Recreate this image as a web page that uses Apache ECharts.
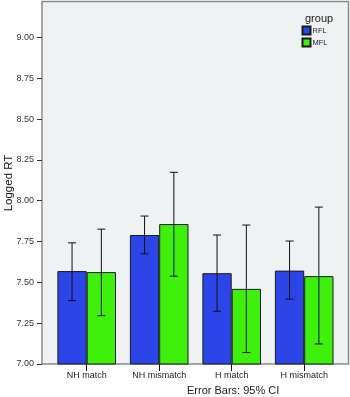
<!DOCTYPE html>
<html>
<head>
<meta charset="utf-8">
<script src="https://cdn.jsdelivr.net/npm/echarts@6/dist/echarts.min.js"></script>
<style>
  html, body { margin: 0; padding: 0; background: #fff; }
  #main { width: 350px; height: 397px; }
</style>
</head>
<body>
<div id="main"></div>
<script>
// condition categories + group means, with 95% CI bounds
var categories = ['NH match', 'NH mismatch', 'H match', 'H mismatch'];
var groups = ['RFL', 'MFL'];
var rflMean = [7.569, 7.790, 7.556, 7.572];
var rflLow  = [7.388, 7.675, 7.323, 7.397];
var rflHigh = [7.742, 7.906, 7.790, 7.753];
var mflMean = [7.563, 7.857, 7.460, 7.538];
var mflLow  = [7.296, 7.538, 7.070, 7.123];
var mflHigh = [7.826, 8.174, 7.851, 7.961];
var yTicks = [7.00, 7.25, 7.50, 7.75, 8.00, 8.25, 8.50, 8.75, 9.00];

var font = 'Liberation Sans, Arial, sans-serif';
var yMin = 7, yMax = 9.22;
var barW = 29.3;

var errData = [];
for (var i = 0; i < categories.length; i++) {
    errData.push([i, rflLow[i], rflHigh[i], -barW / 2]);
    errData.push([i, mflLow[i], mflHigh[i], barW / 2]);
}

var renderErr = function (params, api) {
    var c = api.value(0);
    var lo = api.coord([c, api.value(1)]);
    var hi = api.coord([c, api.value(2)]);
    var x = lo[0] + api.value(3);
    var cap = 4;
    var st = { stroke: '#111', lineWidth: 1 };
    return {
        type: 'group',
        children: [
            { type: 'line', shape: { x1: x, y1: hi[1], x2: x, y2: lo[1] }, style: st },
            { type: 'line', shape: { x1: x - cap, y1: hi[1], x2: x + cap, y2: hi[1] }, style: st },
            { type: 'line', shape: { x1: x - cap, y1: lo[1], x2: x + cap, y2: lo[1] }, style: st }
        ]
    };
};

var option = {
    animation: false,
    textStyle: { fontFamily: font },
    title: {
        text: 'group',
        left: 300,
        top: 8,
        textStyle: { fontSize: 11, fontWeight: 'normal', color: '#222', fontFamily: font }
    },
    legend: {
        data: groups,
        orient: 'vertical',
        left: 301.5,
        top: 25.5,
        itemWidth: 8,
        itemHeight: 8,
        itemGap: 2,
        icon: 'rect',
        textStyle: { fontSize: 7.5, color: '#222', padding: [0, 0, 0, -3] },
        padding: 0
    },
    graphic: [
        {
            type: 'text',
            left: 187,
            top: 385,
            style: { text: 'Error Bars: 95% CI', font: '11px ' + font, fill: '#222' }
        },
        {
            // y axis title
            type: 'text',
            x: 9,
            y: 183,
            rotation: Math.PI / 2,
            style: { text: 'Logged RT', font: '11.5px ' + font, fill: '#111', align: 'center', verticalAlign: 'middle' }
        }
    ],
    grid: [
        { left: 42, top: 1.5, right: 1.5, bottom: 33, outerBoundsMode: 'none', show: true, backgroundColor: '#eef2f3', borderColor: '#8a8a8a', borderWidth: 1.5 },
        { left: 50.45, top: 1.5, right: 9.55, bottom: 33, outerBoundsMode: 'none' }
    ],
    xAxis: [
        { gridIndex: 0, type: 'value', min: 0, max: 1, show: false },
        {
            gridIndex: 1,
            type: 'category',
            data: categories,
            axisLine: { show: false },
            axisTick: { show: true, alignWithLabel: true, length: 7, lineStyle: { color: '#111' } },
            axisLabel: { fontSize: 9, color: '#222', margin: 7 }
        }
    ],
    yAxis: [
        {
            gridIndex: 0,
            type: 'value',
            min: yMin,
            max: yMax,
            axisLine: { show: false },
            axisTick: { show: true, length: 5, customValues: yTicks, lineStyle: { color: '#333' } },
            axisLabel: {
                fontSize: 9, color: '#333', margin: 8, customValues: yTicks,
                formatter: function (v) { return v.toFixed(2); }
            },
            splitLine: { show: false }
        },
        { gridIndex: 1, type: 'value', min: yMin, max: yMax, show: false, splitLine: { show: false } }
    ],
    series: [
        {
            name: 'RFL', type: 'bar', xAxisIndex: 1, yAxisIndex: 1,
            data: rflMean, barWidth: barW, barGap: '0%',
            itemStyle: { color: '#2c45e6', borderColor: '#1a1a1a', borderWidth: 1 }
        },
        {
            name: 'MFL', type: 'bar', xAxisIndex: 1, yAxisIndex: 1,
            data: mflMean, barWidth: barW, barGap: '0%',
            itemStyle: { color: '#3ff00c', borderColor: '#1a1a1a', borderWidth: 1 }
        },
        {
            type: 'custom', xAxisIndex: 1, yAxisIndex: 1,
            renderItem: renderErr,
            data: errData,
            z: 5
        }
    ]
};

var myChart = echarts.init(document.getElementById('main'));
myChart.setOption(option);
</script>
</body>
</html>
